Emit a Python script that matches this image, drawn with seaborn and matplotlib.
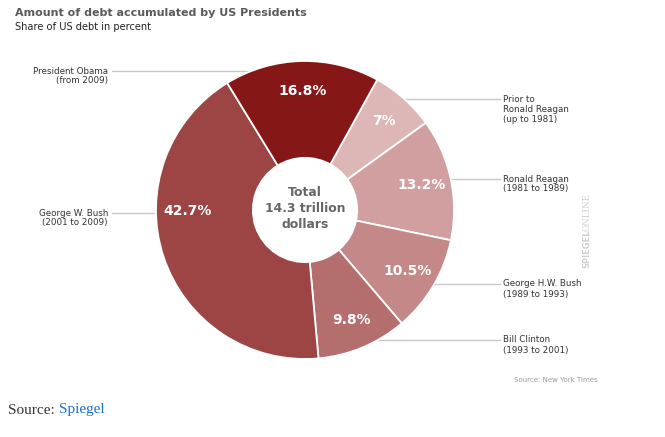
import matplotlib
matplotlib.use("Agg")
import matplotlib.pyplot as plt
import numpy as np
import seaborn as sns

# ---- data ----
presidents = ["Prior to\nRonald Reagan\n(up to 1981)",
              "Ronald Reagan\n(1981 to 1989)",
              "George H.W. Bush\n(1989 to 1993)",
              "Bill Clinton\n(1993 to 2001)",
              "George W. Bush\n(2001 to 2009)",
              "President Obama\n(from 2009)"]
shares = [7, 13.2, 10.5, 9.8, 42.7, 16.8]
slice_colors = ["#DDB6B6", "#D19F9F", "#C58888", "#B56E6E", "#9D4545", "#861717"]
title = "Amount of debt accumulated by US Presidents"
subtitle = "Share of US debt in percent"
center_text = "Total\n14.3 trillion\ndollars"

# ---- layout (pixels) ----
W, H = 665, 437
cx, cy, R = 305, 210, 149
# label anchor (x, y, ha) and leader line (x_start, x_end) for each slice
label_pos = [(503, 99, "left"), (503, 179, "left"), (503, 284, "left"),
             (503, 340, "left"), (108, 213, "right"), (108, 71, "right")]
line_x = [(500, 370), (500, 410), (500, 410), (500, 360), (112, 200), (112, 270)]
# the big slice's percentage sits level with its label (degrees, matplotlib convention)
pct_angle_override = {4: 180.5}

sns.set_theme(style="white")
plt.rcParams["font.family"] = ["DejaVu Sans"]

fig = plt.figure(figsize=(W / 100, H / 100), dpi=100)
fig.patch.set_facecolor("white")

# overlay axes in pixel coordinates (behind the pie)
bg = fig.add_axes([0, 0, 1, 1])
bg.set_xlim(0, W)
bg.set_ylim(H, 0)
bg.axis("off")

# pie axes
ax = fig.add_axes([(cx - R) / W, 1 - (cy + R) / H, 2 * R / W, 2 * R / H])
wedges, texts, autotexts = ax.pie(
    shares, colors=slice_colors, startangle=61, counterclock=False,
    radius=1.0, autopct=lambda p: f"{p:g}%", pctdistance=0.8,
    wedgeprops=dict(width=0.65, edgecolor="white", linewidth=1.3),
    textprops=dict(color="white", fontsize=10, fontweight="bold"))
for i, ang in pct_angle_override.items():
    a = np.deg2rad(ang)
    autotexts[i].set_position((0.79 * np.cos(a), 0.79 * np.sin(a)))
ax.set_xlim(-1, 1)
ax.set_ylim(-1, 1)
ax.set_aspect("equal")
ax.axis("off")
ax.text(0, 0.01, center_text, ha="center", va="center", fontsize=8.9,
        fontweight="bold", color="#666666", linespacing=1.3)

# labels and leader lines
for name, (lx, ly, ha), (x0, x1) in zip(presidents, label_pos, line_x):
    bg.plot([x0, x1], [ly, ly], color="#c8c8c8", lw=1.0)
    for i, ln in enumerate(name.split("\n")):
        bg.text(lx, ly + i * 10, ln, ha=ha, va="center", fontsize=6.35,
                color="#333333")

# titles
bg.text(15, 13, title, ha="left", va="center", fontsize=8.0,
        fontweight="bold", color="#5a5a5a")
bg.text(15, 27, subtitle, ha="left", va="center", fontsize=7.1, color="#222222")

# watermark
bg.text(587, 249, "SPIEGEL", rotation=90, ha="center", va="center",
        fontsize=6, fontweight="bold", color="#cfcfcf")
bg.text(587, 212, "ONLINE", rotation=90, ha="center", va="center",
        fontsize=6.3, family="DejaVu Serif", color="#cfcfcf")
bg.text(556, 380, "Source: New York Times", ha="center", va="center",
        fontsize=5, color="#9a9a9a")

# bottom source line
t = bg.text(8, 410, "Source: ", ha="left", va="center", fontsize=11,
            family="Liberation Serif", color="#333333")
bg.annotate("Spiegel", xy=(1, 0.5), xycoords=t, ha="left", va="center",
            fontsize=11, family="Liberation Serif", color="#1a6fd0")

fig.savefig("out.png", dpi=100, facecolor="white")
